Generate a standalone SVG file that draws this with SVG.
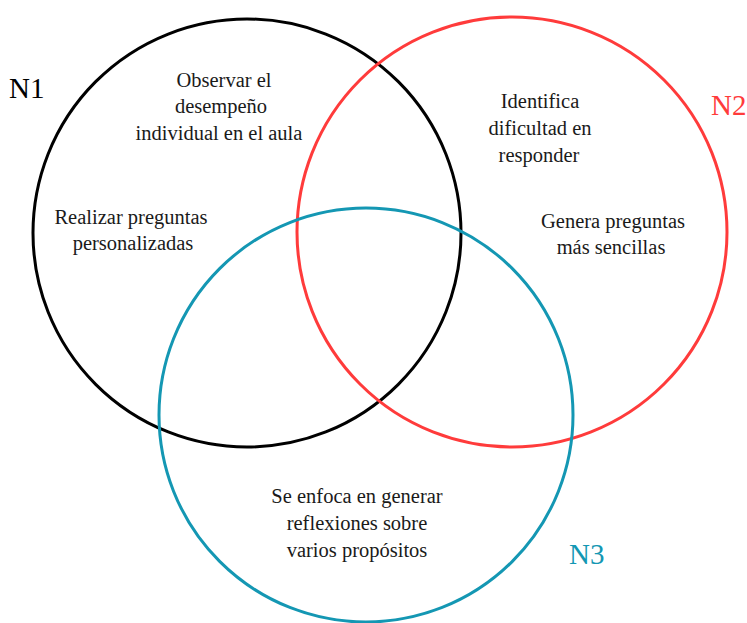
<svg xmlns="http://www.w3.org/2000/svg" width="747" height="623" viewBox="0 0 747 623">
<style>
.c{fill:none;stroke-width:3}
.t{font-family:"Liberation Serif","Times New Roman",serif;font-size:20.5px;fill:#1a1a1a;text-anchor:middle}
.n{font-family:"Liberation Serif","Times New Roman",serif;font-size:29px}
</style>
<rect width="747" height="623" fill="#fff"/>
<g id="circles">
<circle id="n1-circle" class="c" cx="247" cy="233" r="214" stroke="#000"/>
<circle id="n2-circle" class="c" cx="512" cy="232" r="215" stroke="#FF3B3B"/>
<circle id="n3-circle" class="c" cx="366" cy="415" r="207" stroke="#1497B3"/>
</g>
<g id="n1">
<text class="n" x="9" y="98" fill="#000">N1</text>
<text class="t" x="224" y="87">Observar el</text>
<text class="t" x="221" y="113">desempeño</text>
<text class="t" x="219" y="140">individual en el aula</text>
<text class="t" x="131" y="224">Realizar preguntas</text>
<text class="t" x="133" y="250">personalizadas</text>
</g>
<g id="n2">
<text class="n" x="711" y="115" fill="#FF3B3B">N2</text>
<text class="t" x="540" y="108">Identifica</text>
<text class="t" x="540" y="135">dificultad en</text>
<text class="t" x="539" y="162">responder</text>
<text class="t" x="613" y="228">Genera preguntas</text>
<text class="t" x="611" y="254">más sencillas</text>
</g>
<g id="n3">
<text class="n" x="569" y="564" fill="#1497B3">N3</text>
<text class="t" x="357" y="503">Se enfoca en generar</text>
<text class="t" x="357" y="530">reflexiones sobre</text>
<text class="t" x="357" y="557">varios propósitos</text>
</g>
</svg>
